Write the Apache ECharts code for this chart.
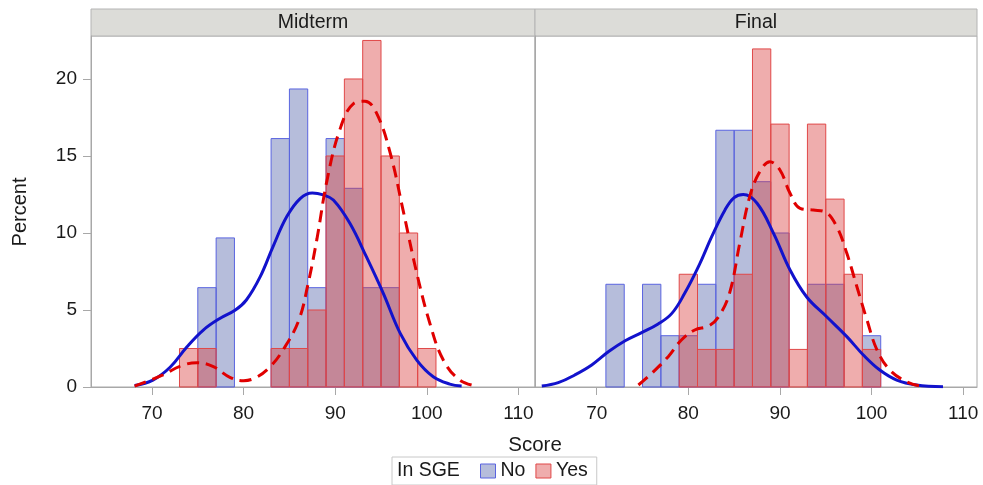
<!DOCTYPE html>
<html>
<head>
<meta charset="utf-8">
<script src="https://cdn.jsdelivr.net/npm/echarts@6/dist/echarts.min.js"></script>
<style>html,body{margin:0;padding:0;background:#fff}#chart{width:983px;height:485px}</style>
</head>
<body>
<div id="chart"></div>
<script>
// ---- data ----
const panels = ['Midterm', 'Final'];
const groups = ['No', 'Yes'];
const groupTitle = 'In SGE';
const xTitle = 'Score';
const yTitle = 'Percent';
const xTicks = [70, 80, 90, 100, 110];
const yTicks = [0, 5, 10, 15, 20];
const BIN = 2;
const binCenters = [72, 74, 76, 78, 80, 82, 84, 86, 88, 90, 92, 94, 96, 98, 100];

const midNo  = [0, 0, 6.45, 9.68, 0, 0, 16.13, 19.35, 6.45, 16.13, 12.9, 6.45, 6.45, 0, 0];
const midYes = [0, 2.5, 2.5, 0, 0, 0, 2.5, 2.5, 5, 15, 20, 22.5, 15, 10, 2.5];
const finNo  = [6.67, 0, 6.67, 3.33, 3.33, 6.67, 16.67, 16.67, 13.33, 10, 0, 6.67, 6.67, 0, 3.33];
const finYes = [0, 0, 0, 0, 7.32, 2.44, 2.44, 7.32, 21.95, 17.07, 2.44, 17.07, 12.2, 7.32, 2.44];

// density curves: [score, percent]
const midNoCurve = [[68.1,0.1],[70.1,0.45],[72.0,1.3],[73.8,2.6],[75.6,3.7],[77.4,4.45],[79.1,5.0],[80.3,5.65],[81.8,7.15],[83.2,9.1],[84.7,11.05],[86.2,12.25],[87.5,12.6],[88.7,12.47],[89.8,12.14],[91.6,10.63],[93.4,8.46],[95.25,6.08],[97.1,3.48],[98.9,1.75],[100.7,0.67],[102.5,0.19],[103.8,0.06]];
const midYesCurve = [[68.1,0.06],[71.2,0.78],[73.1,1.36],[74.9,1.58],[76.7,1.32],[78.5,0.63],[80.0,0.41],[81.4,0.63],[82.9,1.32],[84.3,2.4],[86.0,4.3],[87.0,6.6],[88.0,9.6],[89.1,13.4],[90.5,16.7],[92.0,18.4],[93.25,18.55],[94.5,17.8],[96.0,15.2],[97.4,11.5],[98.9,7.4],[100.35,4.1],[101.8,1.75],[103.6,0.45],[105.45,0.06]];
const finNoCurve = [[64.0,0.06],[65.8,0.28],[67.6,0.78],[69.45,1.43],[71.3,2.3],[73.1,3.0],[74.9,3.53],[76.7,4.09],[78.2,4.78],[79.6,6.08],[81.1,7.81],[82.55,9.76],[84.0,11.5],[85.0,12.3],[86.0,12.5],[87.5,11.93],[89.3,9.98],[91.1,7.6],[92.9,5.86],[95.1,4.56],[97.3,3.27],[99.1,2.08],[100.9,1.1],[102.75,0.45],[104.9,0.13],[107.8,0.02]];
const finYesCurve = [[74.55,0.13],[76.0,0.89],[77.8,1.97],[79.24,3.05],[80.7,3.7],[82.2,3.96],[83.3,4.56],[84.5,6.1],[85.6,9.3],[86.7,12.36],[87.8,13.98],[88.9,14.63],[90.0,14.09],[91.1,12.58],[92.2,11.6],[93.65,11.49],[94.9,11.38],[96.2,10.41],[97.3,8.68],[98.4,6.51],[99.5,4.35],[100.6,2.4],[102.0,1.1],[103.8,0.35],[105.3,0.06]];

// ---- styles ----
const FONT = 'Liberation Sans, Arial, sans-serif';
const TXT = '#1a1a1a';
const AXIS = '#a8a8a8';
const fillC = { No: 'rgba(80,98,170,0.42)', Yes: 'rgba(218,60,60,0.42)' };
const strokeC = { No: '#5a64e0', Yes: '#e04848' };
const lineC = { No: '#1212cc', Yes: '#e00000' };

const chart = echarts.init(document.getElementById('chart'), null, { renderer: 'canvas' });

function histSeries(name, vals, idx) {
  return {
    name: name, type: 'custom', xAxisIndex: idx, yAxisIndex: idx, z: name === 'No' ? 2 : 3,
    data: binCenters.map((c, i) => [c, vals[i]]),
    itemStyle: { color: fillC[name], borderColor: strokeC[name], borderWidth: 1 },
    renderItem: function (params, api) {
      const x = api.value(0), v = api.value(1);
      if (!v) return null;
      const p0 = api.coord([x - BIN / 2, v]);
      const p1 = api.coord([x + BIN / 2, 0]);
      return { type: 'rect', shape: { x: p0[0], y: p0[1], width: p1[0] - p0[0], height: p1[1] - p0[1] },
        style: { fill: fillC[name], stroke: strokeC[name], lineWidth: 1 } };
    }
  };
}
function curveSeries(name, pts, idx) {
  return {
    name: name + ' density', type: 'line', xAxisIndex: idx, yAxisIndex: idx, z: 5,
    data: pts, smooth: 0.4, showSymbol: false, silent: true,
    lineStyle: { color: lineC[name], width: 3, type: name === 'Yes' ? [12, 7] : 'solid' }
  };
}

const gridL = [{ left: 91, top: 36, width: 444, height: 351 }, { left: 535, top: 36, width: 442, height: 351 }];
const xRange = [[63.34, 111.81], [63.26, 111.51]];

function xAxis(i) {
  return {
    type: 'value', gridIndex: i, min: xRange[i][0], max: xRange[i][1],
    splitLine: { show: false },
    axisLine: { show: true, lineStyle: { color: AXIS, width: 1 } },
    axisTick: { show: true, length: 8, customValues: xTicks, lineStyle: { color: AXIS } },
    axisLabel: { customValues: xTicks, margin: 17, fontSize: 19, color: TXT, fontFamily: FONT }
  };
}
function yAxis(i) {
  return {
    type: 'value', gridIndex: i, min: 0, max: 22.79,
    splitLine: { show: false },
    axisLine: { show: true, lineStyle: { color: AXIS, width: 1 } },
    axisTick: { show: i === 0, length: 8, customValues: yTicks, lineStyle: { color: AXIS } },
    axisLabel: { show: i === 0, customValues: yTicks, margin: 14, fontSize: 19, color: TXT, fontFamily: FONT }
  };
}

function header(text, g) {
  return {
    type: 'group', children: [
      { type: 'rect', shape: { x: g.left, y: 9, width: g.width, height: 27 },
        style: { fill: '#dcdcd8', stroke: '#b4b4b4', lineWidth: 1 } },
      { type: 'text', x: g.left + g.width / 2, y: 23,
        style: { text: text, fontSize: 19.5, fontFamily: FONT, fill: TXT, textAlign: 'center', textVerticalAlign: 'middle' } }
    ]
  };
}

chart.setOption({
  animation: false,
  backgroundColor: '#ffffff',
  grid: gridL.map(g => Object.assign({ show: true, borderColor: AXIS, borderWidth: 1, backgroundColor: '#fff' }, g)),
  xAxis: [xAxis(0), xAxis(1)],
  yAxis: [yAxis(0), yAxis(1)],
  legend: {
    data: groups.map(n => ({ name: n, icon: 'rect', itemStyle: { color: fillC[n], borderColor: strokeC[n], borderWidth: 1 } })),
    left: 392, top: 457, orient: 'horizontal',
    itemWidth: 15, itemHeight: 14, itemGap: 10,
    padding: [4, 9, 4, 88],
    borderColor: '#c8c8c8', borderWidth: 1,
    selectedMode: false,
    textStyle: { fontSize: 19.5, color: TXT, fontFamily: FONT }
  },
  graphic: [
    header(panels[0], gridL[0]),
    header(panels[1], gridL[1]),
    { type: 'text', x: 535, y: 445, style: { text: xTitle, fontSize: 20.5, fontFamily: FONT, fill: TXT, textAlign: 'center', textVerticalAlign: 'middle' } },
    { type: 'text', x: 20, y: 212, rotation: Math.PI / 2, style: { text: yTitle, fontSize: 20, fontFamily: FONT, fill: TXT, textAlign: 'center', textVerticalAlign: 'middle' } },
    { type: 'text', x: 397, y: 471, style: { text: groupTitle, fontSize: 19.5, fontFamily: FONT, fill: TXT, textAlign: 'left', textVerticalAlign: 'middle' } }
  ],
  series: [
    histSeries('No', midNo, 0), histSeries('Yes', midYes, 0),
    histSeries('No', finNo, 1), histSeries('Yes', finYes, 1),
    curveSeries('No', midNoCurve, 0), curveSeries('Yes', midYesCurve, 0),
    curveSeries('No', finNoCurve, 1), curveSeries('Yes', finYesCurve, 1)
  ]
});
</script>
</body>
</html>
